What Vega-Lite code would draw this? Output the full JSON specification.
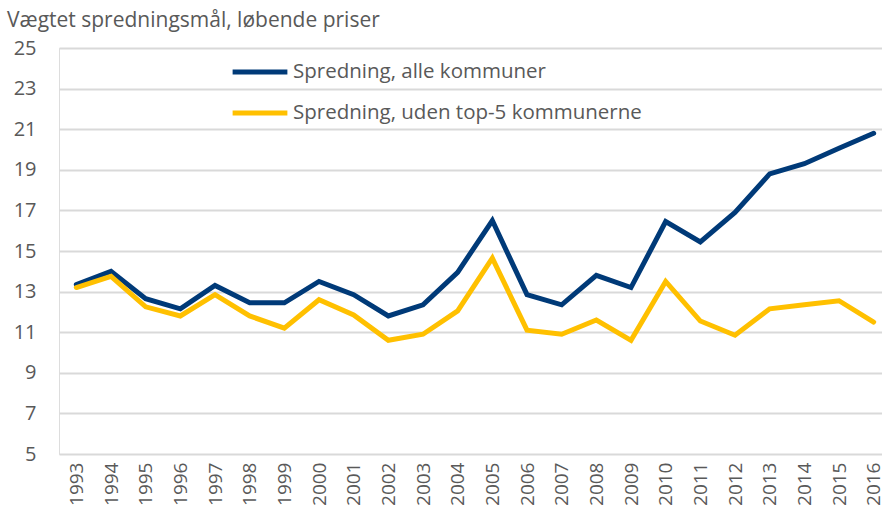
{
  "$schema": "https://vega.github.io/schema/vega-lite/v6.json",
  "autosize": {"type": "none"},
  "width": 832,
  "height": 406,
  "padding": {"left": 59, "top": 48, "right": 0, "bottom": 67},
  "background": "white",
  "title": {
    "text": "Vægtet spredningsmål, løbende priser",
    "anchor": "start",
    "frame": "group",
    "dx": -52,
    "offset": 7,
    "font": "Open Sans",
    "fontSize": 21,
    "fontWeight": "normal",
    "color": "#595959"
  },
  "data": {
    "values": [
      {"year": "1993", "serie": "Spredning, alle kommuner", "v": 13.35},
      {"year": "1994", "serie": "Spredning, alle kommuner", "v": 14.0},
      {"year": "1995", "serie": "Spredning, alle kommuner", "v": 12.65},
      {"year": "1996", "serie": "Spredning, alle kommuner", "v": 12.15},
      {"year": "1997", "serie": "Spredning, alle kommuner", "v": 13.3},
      {"year": "1998", "serie": "Spredning, alle kommuner", "v": 12.45},
      {"year": "1999", "serie": "Spredning, alle kommuner", "v": 12.45},
      {"year": "2000", "serie": "Spredning, alle kommuner", "v": 13.5},
      {"year": "2001", "serie": "Spredning, alle kommuner", "v": 12.85},
      {"year": "2002", "serie": "Spredning, alle kommuner", "v": 11.8},
      {"year": "2003", "serie": "Spredning, alle kommuner", "v": 12.35},
      {"year": "2004", "serie": "Spredning, alle kommuner", "v": 13.95},
      {"year": "2005", "serie": "Spredning, alle kommuner", "v": 16.5},
      {"year": "2006", "serie": "Spredning, alle kommuner", "v": 12.85},
      {"year": "2007", "serie": "Spredning, alle kommuner", "v": 12.35},
      {"year": "2008", "serie": "Spredning, alle kommuner", "v": 13.8},
      {"year": "2009", "serie": "Spredning, alle kommuner", "v": 13.2},
      {"year": "2010", "serie": "Spredning, alle kommuner", "v": 16.45},
      {"year": "2011", "serie": "Spredning, alle kommuner", "v": 15.45},
      {"year": "2012", "serie": "Spredning, alle kommuner", "v": 16.9},
      {"year": "2013", "serie": "Spredning, alle kommuner", "v": 18.8},
      {"year": "2014", "serie": "Spredning, alle kommuner", "v": 19.3},
      {"year": "2015", "serie": "Spredning, alle kommuner", "v": 20.06},
      {"year": "2016", "serie": "Spredning, alle kommuner", "v": 20.8},
      {"year": "1993", "serie": "Spredning, uden top-5 kommunerne", "v": 13.2},
      {"year": "1994", "serie": "Spredning, uden top-5 kommunerne", "v": 13.75},
      {"year": "1995", "serie": "Spredning, uden top-5 kommunerne", "v": 12.25},
      {"year": "1996", "serie": "Spredning, uden top-5 kommunerne", "v": 11.8},
      {"year": "1997", "serie": "Spredning, uden top-5 kommunerne", "v": 12.85},
      {"year": "1998", "serie": "Spredning, uden top-5 kommunerne", "v": 11.8},
      {"year": "1999", "serie": "Spredning, uden top-5 kommunerne", "v": 11.2},
      {"year": "2000", "serie": "Spredning, uden top-5 kommunerne", "v": 12.6},
      {"year": "2001", "serie": "Spredning, uden top-5 kommunerne", "v": 11.85},
      {"year": "2002", "serie": "Spredning, uden top-5 kommunerne", "v": 10.6},
      {"year": "2003", "serie": "Spredning, uden top-5 kommunerne", "v": 10.9},
      {"year": "2004", "serie": "Spredning, uden top-5 kommunerne", "v": 12.05},
      {"year": "2005", "serie": "Spredning, uden top-5 kommunerne", "v": 14.65},
      {"year": "2006", "serie": "Spredning, uden top-5 kommunerne", "v": 11.1},
      {"year": "2007", "serie": "Spredning, uden top-5 kommunerne", "v": 10.9},
      {"year": "2008", "serie": "Spredning, uden top-5 kommunerne", "v": 11.6},
      {"year": "2009", "serie": "Spredning, uden top-5 kommunerne", "v": 10.6},
      {"year": "2010", "serie": "Spredning, uden top-5 kommunerne", "v": 13.5},
      {"year": "2011", "serie": "Spredning, uden top-5 kommunerne", "v": 11.55},
      {"year": "2012", "serie": "Spredning, uden top-5 kommunerne", "v": 10.85},
      {"year": "2013", "serie": "Spredning, uden top-5 kommunerne", "v": 12.15},
      {"year": "2014", "serie": "Spredning, uden top-5 kommunerne", "v": 12.35},
      {"year": "2015", "serie": "Spredning, uden top-5 kommunerne", "v": 12.55},
      {"year": "2016", "serie": "Spredning, uden top-5 kommunerne", "v": 11.5}
    ]
  },
  "mark": {"type": "line", "strokeWidth": 5, "strokeCap": "round"},
  "encoding": {
    "x": {
      "field": "year",
      "type": "ordinal",
      "scale": {"type": "point", "padding": 0.5},
      "axis": {
        "title": null,
        "labelAngle": 270,
        "labelAlign": "right",
        "labelBaseline": "middle",
        "labelPadding": 8,
        "labelFont": "Open Sans",
        "labelFontSize": 19,
        "labelColor": "#595959",
        "ticks": false,
        "domain": false,
        "grid": false
      }
    },
    "y": {
      "field": "v",
      "type": "quantitative",
      "scale": {"domain": [5, 25], "nice": false, "zero": false},
      "axis": {
        "title": null,
        "values": [5, 7, 9, 11, 13, 15, 17, 19, 21, 23, 25],
        "labelFont": "Open Sans",
        "labelFontSize": 20,
        "labelColor": "#595959",
        "labelPadding": 23,
        "ticks": false,
        "domain": false,
        "grid": true,
        "gridColor": "#d9d9d9",
        "gridWidth": 2
      }
    },
    "color": {
      "field": "serie",
      "type": "nominal",
      "scale": {
        "domain": ["Spredning, alle kommuner", "Spredning, uden top-5 kommunerne"],
        "range": ["#003a78", "#ffc000"]
      },
      "legend": {
        "title": null,
        "orient": "none",
        "legendX": 171,
        "legendY": -6,
        "symbolType": "stroke",
        "symbolSize": 3000,
        "symbolStrokeWidth": 5,
        "labelFont": "Open Sans",
        "labelFontSize": 20.5,
        "labelColor": "#595959",
        "labelOffset": 3,
        "labelLimit": 500,
        "rowPadding": -18
      }
    }
  }
}
